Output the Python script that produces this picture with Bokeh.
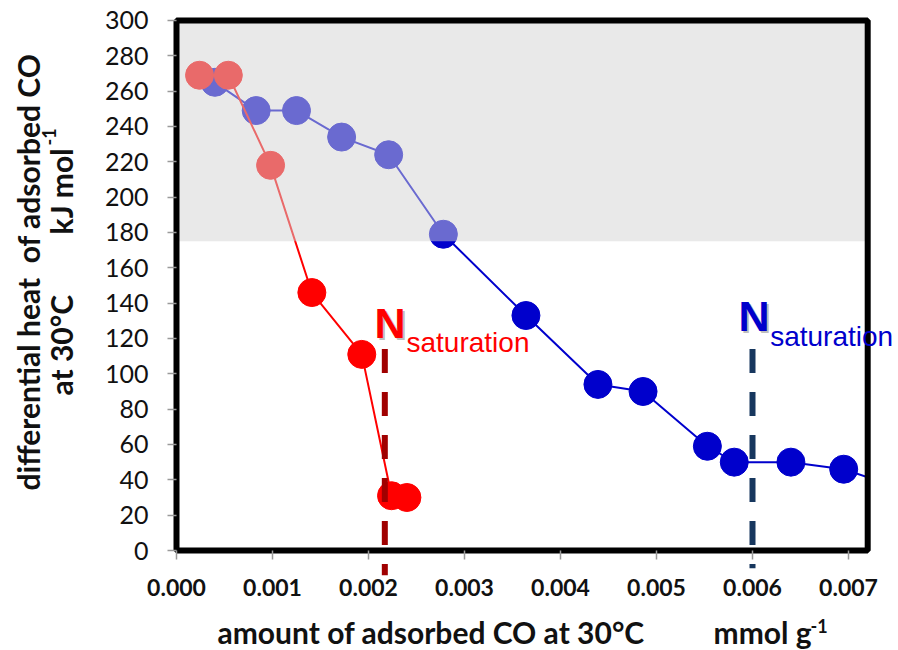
import math

from bokeh.embed import file_html
from bokeh.models import ColumnDataSource, FixedTicker, Label, NumeralTickFormatter, Range1d
from bokeh.plotting import figure
from bokeh.resources import INLINE

# Differential heat of CO adsorption (kJ/mol) vs. amount adsorbed (mmol/g), 30 °C
red_amount = [0.00024, 0.00054, 0.00098, 0.00141, 0.00193, 0.00224, 0.00240]
red_heat = [269, 269, 218, 146, 111, 31, 30]

blue_amount = [0.00040, 0.00083, 0.00125, 0.00172, 0.00221, 0.00278, 0.00364,
               0.00439, 0.00486, 0.00553, 0.00581, 0.00640, 0.00695, 0.00750]
blue_heat = [265, 249, 249, 234, 224, 179, 133, 94, 90, 59, 50, 50, 46, 36]

# saturation coverage markers (dashed verticals)
sat_amount = [0.00217, 0.00600]
sat_top = [114, 114]
sat_bottom = [-14, -10]
sat_colors = ["#A00000", "#17375E"]

# strong-site band: heats above this value are shaded
band_low = 175

# plotting box limits and ticks
x_max = 0.0072
y_max = 300
x_ticks = [0.000, 0.001, 0.002, 0.003, 0.004, 0.005, 0.006, 0.007]
y_ticks = list(range(0, 301, 20))

FONT = "Lato"
INK = "#111111"

# the canvas-wide view leaves room around the box for the titles
p = figure(width=898, height=650, output_backend="svg", toolbar_location=None,
           x_range=Range1d(-0.0018333, 0.0075208), y_range=Range1d(-56.6, 311.3),
           min_border=0)
p.background_fill_color = "white"
p.border_fill_color = "white"
p.outline_line_color = None
p.grid.visible = False

p.xaxis.fixed_location = 0
p.yaxis.fixed_location = 0
p.xaxis.ticker = FixedTicker(ticks=x_ticks)
p.xaxis.formatter = NumeralTickFormatter(format="0.000")
p.yaxis.ticker = FixedTicker(ticks=y_ticks)
for ax in (p.xaxis[0], p.yaxis[0]):
    ax.axis_line_color = None
    ax.major_tick_line_color = "#9A9A9A"
    ax.major_tick_line_width = 1.5
    ax.major_tick_out = 9
    ax.major_tick_in = 0
    ax.minor_tick_line_color = None
    ax.major_label_text_font = FONT
    ax.major_label_text_color = INK
p.xaxis.major_label_text_font_size = "23px"
p.xaxis.major_label_text_font_style = "bold"
p.xaxis.major_label_standoff = 19
p.yaxis.major_label_text_font_size = "25px"
p.yaxis.major_label_standoff = 19

# data series
blue_src = ColumnDataSource(dict(x=blue_amount, y=blue_heat))
red_src = ColumnDataSource(dict(x=red_amount, y=red_heat))
p.line("x", "y", source=blue_src, line_color="#0000CC", line_width=2)
p.scatter("x", "y", source=blue_src, size=28, fill_color="#0000CC", line_color="#0000CC")
p.line("x", "y", source=red_src, line_color="#FF0000", line_width=2)
p.scatter("x", "y", source=red_src, size=28, fill_color="#FF0000", line_color="#FF0000")

# translucent band over the high-heat region
p.quad(left=[0], right=[x_max], bottom=[band_low], top=[y_max],
       fill_color=(212, 212, 212), fill_alpha=0.5, line_color=None)

# anything past the right edge of the box is hidden
p.quad(left=[x_max], right=[0.0076], bottom=[0], top=[y_max],
       fill_color="white", line_color=None)

# heavy box around the plotting area
p.quad(left=[0], right=[x_max], bottom=[0], top=[y_max],
       fill_color=None, line_color="black", line_width=6)

# saturation dashed lines
p.segment(x0=sat_amount, y0=sat_top, x1=sat_amount, y1=sat_bottom,
          line_color=sat_colors, line_width=6, line_dash="24 19")


def n_label(x, y, sub_x, sub_y, color):
    p.add_layout(Label(x=x, y=y, x_offset=2, y_offset=-2, text="N",
                       text_font="Liberation Sans", text_font_size="43px",
                       text_font_style="bold", text_color="#444444", text_alpha=0.35,
                       text_baseline="middle"))
    p.add_layout(Label(x=x, y=y, text="N", text_font="Liberation Sans",
                       text_font_size="43px", text_font_style="bold", text_color=color,
                       text_baseline="middle"))
    p.add_layout(Label(x=sub_x, y=sub_y, text="saturation", text_font="Liberation Sans",
                       text_font_size="28px", text_color=color, text_baseline="middle"))


n_label(0.0020625, 128.5, 0.0023958, 118.0, "#FF0000")
n_label(0.0058542, 133.0, 0.0061840, 121.0, "#0000CC")


def title(text, x, y, size="30px", angle=0.0, align="left"):
    p.add_layout(Label(x=x, y=y, text=text, angle=angle, text_font=FONT,
                       text_font_size=size, text_font_style="bold", text_color=INK,
                       text_align=align, text_baseline="middle"))


# vertical title (two lines)
title("differential heat \u00a0of adsorbed CO", -0.0015417, 34.0, angle=math.pi / 2)
title("at 30°C", -0.0012083, 87.7, angle=math.pi / 2)
title("kJ mol", -0.0012083, 227.6, angle=math.pi / 2, align="right")
title("-1", -0.0013300, 229.2, size="18px", angle=math.pi / 2)

# horizontal title
title("amount of adsorbed CO at 30°C", 0.000427, -46.4)
title("mmol g", 0.005594, -46.4)
title("-1", 0.0066042, -43.0, size="18px")

open("out.html", "w").write(file_html(p, INLINE))
